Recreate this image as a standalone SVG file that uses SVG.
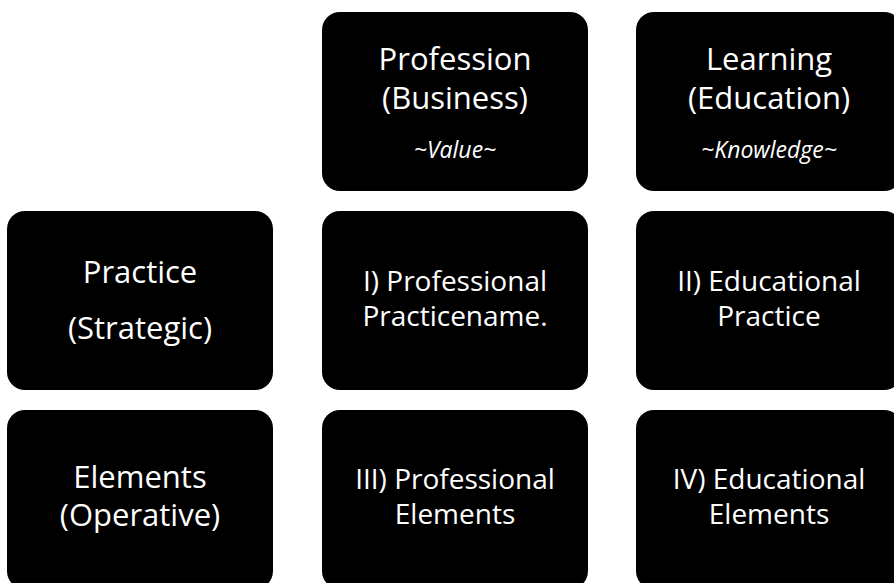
<svg xmlns="http://www.w3.org/2000/svg" width="894" height="583" viewBox="0 0 894 583">
<style>
.box{fill:#000;}
.t{fill:#fff;font-family:"Open Sans","Noto Sans",sans-serif;text-anchor:middle;}
.big{font-size:31px;}
.mid{font-size:28px;}
.it{font-size:23px;font-style:italic;}
</style>
<rect width="894" height="583" fill="#fff"/>
<g id="connectors"/>
<g id="profession">
<rect class="box" x="322" y="12" width="266" height="179" rx="18"/>
<text class="t big" x="455" y="70">Profession<tspan x="455" dy="39">(Business)</tspan></text>
<text class="t it" x="455" y="158">~Value~</text>
</g>
<g id="learning">
<rect class="box" x="636" y="12" width="266" height="179" rx="18"/>
<text class="t big" x="769" y="70">Learning<tspan x="769" dy="39">(Education)</tspan></text>
<text class="t it" x="769" y="158">~Knowledge~</text>
</g>
<g id="practice">
<rect class="box" x="7" y="211" width="266" height="179" rx="18"/>
<text class="t big" x="140" y="283">Practice</text>
<text class="t big" x="140" y="339">(Strategic)</text>
</g>
<g id="professional-practice">
<rect class="box" x="322" y="211" width="266" height="179" rx="18"/>
<text class="t mid" x="455" y="291">I) Professional<tspan x="455" dy="35">Practicename.</tspan></text>
</g>
<g id="educational-practice">
<rect class="box" x="636" y="211" width="266" height="179" rx="18"/>
<text class="t mid" x="769" y="291">II) Educational<tspan x="769" dy="35">Practice</tspan></text>
</g>
<g id="elements">
<rect class="box" x="7" y="410" width="266" height="179" rx="18"/>
<text class="t big" x="140" y="488">Elements<tspan x="140" dy="38">(Operative)</tspan></text>
</g>
<g id="professional-elements">
<rect class="box" x="322" y="410" width="266" height="179" rx="18"/>
<text class="t mid" x="455" y="489">III) Professional<tspan x="455" dy="35">Elements</tspan></text>
</g>
<g id="educational-elements">
<rect class="box" x="636" y="410" width="266" height="179" rx="18"/>
<text class="t mid" x="769" y="489">IV) Educational<tspan x="769" dy="35">Elements</tspan></text>
</g>
</svg>
